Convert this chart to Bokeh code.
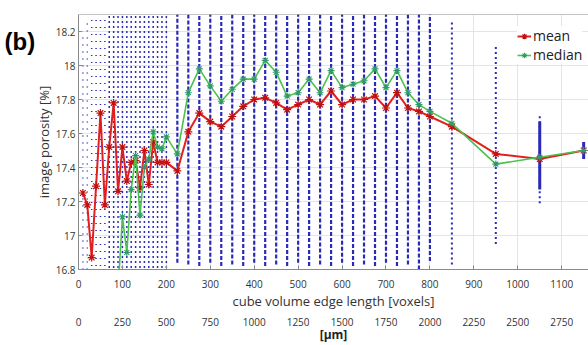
from bokeh.plotting import figure
from bokeh.models import (FixedTicker, Range1d, Legend, LegendItem,
                          Label, ColumnDataSource, Span, LinearAxis)
from bokeh.embed import file_html
from bokeh.resources import INLINE

# ---------------- data ----------------
edge_voxels = [10, 20, 30, 40, 50, 60, 70, 80, 90, 100, 110, 120, 130, 140, 150,
               160, 170, 180, 190, 200, 225, 250, 275, 300, 325, 350, 375, 400,
               425, 450, 475, 500, 525, 550, 575, 600, 625, 650, 675, 700, 725,
               750, 775, 800, 850, 950, 1050, 1150]
mean_porosity = [17.25, 17.18, 16.87, 17.29, 17.72, 17.18, 17.52, 17.78, 17.26,
                 17.52, 17.32, 17.43, 17.44, 17.28, 17.50, 17.30, 17.55, 17.43,
                 17.43, 17.43, 17.38, 17.61, 17.72, 17.67, 17.64, 17.70, 17.76,
                 17.80, 17.81, 17.78, 17.74, 17.77, 17.80, 17.77, 17.85, 17.77,
                 17.80, 17.80, 17.82, 17.75, 17.84, 17.75, 17.73, 17.70, 17.64,
                 17.48, 17.45, 17.50]

median_voxels = [90, 100, 110, 120, 130, 140, 150, 160, 170, 180, 190, 200, 225,
                 250, 275, 300, 325, 350, 375, 400, 425, 450, 475, 500, 525, 550,
                 575, 600, 625, 650, 675, 700, 725, 750, 775, 800, 850, 950, 1050,
                 1150]
median_porosity = [16.68, 17.11, 16.90, 17.27, 17.47, 17.12, 17.40, 17.45, 17.61,
                   17.52, 17.51, 17.58, 17.48, 17.84, 17.98, 17.88, 17.79, 17.86,
                   17.92, 17.92, 18.03, 17.96, 17.82, 17.84, 17.92, 17.84, 17.97,
                   17.87, 17.89, 17.91, 17.98, 17.87, 17.97, 17.84, 17.77, 17.73,
                   17.66, 17.42, 17.46, 17.50]

# spread of the individual sub-volume samples (dotted columns)
sparse_x = [10, 20, 30, 40, 50, 60]
sparse_lo = [16.80, 16.80, 16.78, 16.78, 16.78, 16.78]
sparse_hi = [18.20, 18.25, 18.32, 18.32, 18.32, 18.32]
dense_x = [70, 80, 90, 100, 110, 120, 130, 140, 150, 160, 170, 180, 190, 200]
dense_lo = [16.78] * 14
dense_hi = [18.32] * 14
mid_x = [225, 250, 275, 300, 325, 350, 375, 400, 425, 450, 475, 500, 525, 550,
         575, 600, 625, 650, 675, 700, 725, 750, 775, 800]
mid_lo = [16.84, 16.83, 16.82, 16.84, 16.82, 16.83, 16.82, 16.84, 16.82, 16.83,
          16.82, 16.84, 16.82, 16.83, 16.82, 16.84, 16.82, 16.83, 16.82, 16.84,
          16.82, 16.83, 16.80, 16.85]
mid_hi = [18.32] * 24
large_x = [850, 950, 1050]
large_lo = [16.83, 16.95, 17.19]
large_hi = [18.26, 18.12, 17.71]
core_x = [1050, 1150]
core_lo = [17.27, 17.45]
core_hi = [17.67, 17.55]

x_ticks = [0, 100, 200, 300, 400, 500, 600, 700, 800, 900, 1000, 1100]
y_ticks = [16.8, 17.0, 17.2, 17.4, 17.6, 17.8, 18.0, 18.2]
y_tick_labels = ["16.8", "17", "17.2", "17.4", "17.6", "17.8", "18", "18.2"]
um_tick_labels = ["0", "250", "500", "750", "1000", "1250", "1500", "1750",
                  "2000", "2250", "2500", "2750"]
y_top = 18.3

# ---------------- figure ----------------
FONT = "Open Sans"
p = figure(width=588, height=345, output_backend="svg", toolbar_location=None,
           x_range=Range1d(0, 1161), y_range=Range1d(16.8, y_top),
           min_border_left=77, min_border_right=0, min_border_top=14,
           min_border_bottom=0)
p.outline_line_color = None
p.background_fill_color = "white"

# main axes
xa = p.xaxis[0]
xa.ticker = FixedTicker(ticks=x_ticks)
xa.axis_label = "cube volume edge length [voxels]"
ya = p.yaxis[0]
ya.ticker = FixedTicker(ticks=y_ticks)
ya.major_label_overrides = {v: s for v, s in zip(y_ticks, y_tick_labels)}
ya.axis_label = "image porosity [%]"
for ax in (xa, ya):
    ax.axis_line_color = "#8a8a8a"
    ax.major_tick_line_color = "#8a8a8a"
    ax.major_tick_in = 4
    ax.major_tick_out = 0
    ax.minor_tick_line_color = None
    ax.major_label_text_font = FONT
    ax.major_label_text_font_size = "10px"
    ax.major_label_text_color = "#333333"
    ax.axis_label_text_font = FONT
    ax.axis_label_text_font_size = "13px"
    ax.axis_label_text_font_style = "normal"
    ax.axis_label_text_color = "#333333"
xa.major_label_standoff = 10
xa.axis_label_standoff = 1
ya.major_label_standoff = 3
ya.axis_label_standoff = 0

# top border of the box
p.add_layout(Span(location=y_top, dimension="width", line_color="#8a8a8a",
                  line_width=1))

# micrometre axis below
um_axis = LinearAxis(ticker=FixedTicker(ticks=x_ticks),
                     major_label_overrides={v: s for v, s in zip(x_ticks, um_tick_labels)},
                     axis_label="[µm]", axis_line_color=None,
                     major_tick_line_color=None, minor_tick_line_color=None,
                     major_label_text_font=FONT, major_label_text_font_size="10px",
                     major_label_text_color="#333333", major_label_standoff=-1,
                     axis_label_text_font=FONT, axis_label_text_font_size="12px",
                     axis_label_text_font_style="bold", axis_label_text_color="#222222",
                     axis_label_standoff=-3)
p.add_layout(um_axis, "below")

p.xgrid.ticker = FixedTicker(ticks=x_ticks)
p.ygrid.ticker = FixedTicker(ticks=y_ticks)
p.xgrid.grid_line_color = "#e4e4e4"
p.ygrid.grid_line_color = "#e4e4e4"

# ---------------- sample columns ----------------
BLUE = "#2a2ab8"
p.segment(x0=sparse_x, y0=sparse_lo, x1=sparse_x, y1=sparse_hi,
          line_color=BLUE, line_width=1.5, line_dash="1 6")
p.segment(x0=dense_x, y0=dense_lo, x1=dense_x, y1=dense_hi,
          line_color=BLUE, line_width=1.5, line_dash="2 3")
p.segment(x0=mid_x, y0=mid_lo, x1=mid_x, y1=mid_hi,
          line_color=BLUE, line_width=2.2, line_dash="4 2")
p.segment(x0=large_x, y0=large_lo, x1=large_x, y1=large_hi,
          line_color=BLUE, line_width=2, line_dash="2 3")
p.segment(x0=core_x, y0=core_lo, x1=core_x, y1=core_hi,
          line_color=BLUE, line_width=3)

# ---------------- mean / median ----------------
src_mean = ColumnDataSource(dict(x=edge_voxels, y=mean_porosity))
src_med = ColumnDataSource(dict(x=median_voxels, y=median_porosity))
RED = "#e02020"
GREEN = "#4cc24c"
r_mean_l = p.line("x", "y", source=src_mean, line_color=RED, line_width=2)
r_mean_m = p.scatter("x", "y", source=src_mean, marker="asterisk", size=8,
                     line_color="#c01010", line_width=1.2)
r_med_l = p.line("x", "y", source=src_med, line_color=GREEN, line_width=1.6)
r_med_m = p.scatter("x", "y", source=src_med, marker="asterisk", size=7,
                    line_color="#2f9a6a", line_width=1.1)

legend = Legend(items=[LegendItem(label="mean", renderers=[r_mean_l, r_mean_m]),
                       LegendItem(label="median", renderers=[r_med_l, r_med_m])],
                location=(439, 205), label_text_font=FONT,
                label_text_font_size="14px", label_text_color="#222222",
                glyph_width=14, glyph_height=16, label_height=16, label_standoff=2,
                spacing=0, padding=2, margin=0, border_line_color=None,
                background_fill_color="white", background_fill_alpha=1.0)
p.add_layout(legend)

# panel tag, placed in the left side panel so it is not clipped by the frame
p.add_layout(Label(x=4, y=242, x_units="screen", y_units="screen", text="(b)",
                   text_font="Liberation Sans", text_font_size="24px",
                   text_font_style="bold", text_color="black",
                   text_baseline="top"), "left")

open("out.html", "w").write(file_html(p, INLINE))
